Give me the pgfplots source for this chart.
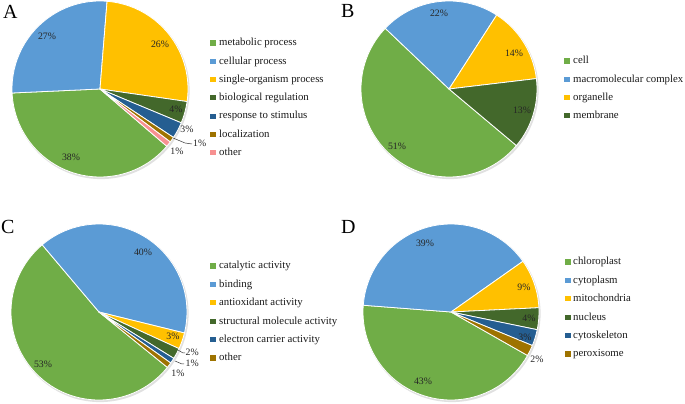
\documentclass[border=0pt]{standalone}
\usepackage{pgfplots}
\pgfplotsset{compat=1.18}
\usepackage{pgfplotstable}
\usepackage{fontspec}
\setmainfont{Liberation Serif}

\definecolor{xgreen}{HTML}{70AD47}
\definecolor{xblue}{HTML}{5B9BD5}
\definecolor{xyellow}{HTML}{FFC000}
\definecolor{xdkgreen}{HTML}{43682B}
\definecolor{xdkblue}{HTML}{255E91}
\definecolor{xbrown}{HTML}{9E7300}
\definecolor{xpink}{HTML}{F79191}

\pgfplotstableread{
cat pct col
{metabolic process} 38 xgreen
{cellular process} 27 xblue
{single-organism process} 26 xyellow
{biological regulation} 4 xdkgreen
{response to stimulus} 3 xdkblue
{localization} 1 xbrown
{other} 1 xpink
}\tabA

\pgfplotstableread{
cat pct col
{cell} 51 xgreen
{macromolecular complex} 22 xblue
{organelle} 14 xyellow
{membrane} 13 xdkgreen
}\tabB

\pgfplotstableread{
cat pct col
{catalytic activity} 53 xgreen
{binding} 40 xblue
{antioxidant activity} 3 xyellow
{structural molecule activity} 2 xdkgreen
{electron carrier activity} 1 xdkblue
{other} 1 xbrown
}\tabC

\pgfplotstableread{
cat pct col
{chloroplast} 43 xgreen
{cytoplasm} 39 xblue
{mitochondria} 9 xyellow
{nucleus} 4 xdkgreen
{cytoskeleton} 3 xdkblue
{peroxisome} 2 xbrown
}\tabD

% #1 table, #2 start angle, #3 legend square x, #4 text x, #5 first row y, #6 row step
\newcommand\pieslices[6]{%
  \pgfplotstablegetrowsof{#1}\pgfmathtruncatemacro\nrows{\pgfplotsretval-1}%
  \fill[black!12] (axis cs:1,-1.5) circle[radius=88.6bp];
  \pgfmathsetmacro\curang{#2}%
  \pgfplotsforeachungrouped \i in {0,...,\nrows}{%
    \pgfplotstablegetelem{\i}{pct}\of{#1}\let\pct\pgfplotsretval
    \pgfplotstablegetelem{\i}{col}\of{#1}\let\col\pgfplotsretval
    \pgfplotstablegetelem{\i}{cat}\of{#1}\let\cat\pgfplotsretval
    \pgfmathsetmacro\nextang{\curang-3.6*\pct}%
    \pgfmathsetmacro\rowy{#5-#6*\i}%
    \edef\temp{%
      \noexpand\fill[fill=\col, draw=white, line width=0.8bp, line join=round]
        (axis cs:0,0) -- (axis cs:{88*cos(\curang)},{88*sin(\curang)})
        arc[start angle=\curang, end angle=\nextang, radius=88bp] -- cycle;
      \noexpand\fill[\col] (axis cs:{#3-2.6},{\rowy-2.6}) rectangle (axis cs:{#3+2.6},{\rowy+2.6});
      \noexpand\node[anchor=base west, inner sep=0pt, text=black!90, font=\noexpand\fontsize{10.8bp}{12bp}\noexpand\selectfont]
        at (axis cs:#4,{\rowy-2.8}) {\cat};
    }%
    \temp
    \let\curang\nextang
  }%
}

\pgfplotsset{pieaxis/.style={at={(0,0)}, anchor=south west, x=1bp, y=1bp,
  hide axis, clip=false, scale only axis}}
\tikzset{lbl/.style={inner sep=0pt, font=\fontsize{9.8bp}{11bp}\selectfont, text=black!85},
  letter/.style={anchor=base west, inner sep=0pt, font=\fontsize{20bp}{24bp}\selectfont}}

\begin{document}
\begin{tikzpicture}
\useasboundingbox (0,0) rectangle (685bp,404bp);

% Panel A
\begin{axis}[pieaxis, xmin=-100, xmax=585, ymin=-315, ymax=89]
\pieslices{\tabA}{-40.6}{113}{119}{46}{18.3}
\node[lbl] at (axis cs:-53,53) {27\%};
\node[lbl] at (axis cs:60,45) {26\%};
\node[lbl] at (axis cs:76,-20) {4\%};
\node[lbl] at (axis cs:87,-40) {3\%};
\draw[black!80, line width=0.5bp] (axis cs:73,-49) -- (axis cs:85,-54) -- (axis cs:92,-55);
\node[lbl, anchor=west] at (axis cs:93,-54) {1\%};
\node[lbl] at (axis cs:77,-62) {1\%};
\node[lbl] at (axis cs:-29,-68) {38\%};
\node[letter] at (axis cs:-97,70) {A};
\end{axis}

% Panel B
\begin{axis}[pieaxis, xmin=-449, xmax=236, ymin=-315, ymax=89]
\pieslices{\tabB}{-40}{118}{124}{28}{18.3}
\node[lbl] at (axis cs:-10,76) {22\%};
\node[lbl] at (axis cs:65,36) {14\%};
\node[lbl] at (axis cs:73,-21) {13\%};
\node[lbl] at (axis cs:-52,-57) {51\%};
\node[letter] at (axis cs:-108,71) {B};
\end{axis}

% Panel C
\begin{axis}[pieaxis, xmin=-99, xmax=586, ymin=-92, ymax=312]
\pieslices{\tabC}{-39}{114}{120}{46}{18.4}
\node[lbl] at (axis cs:44,60) {40\%};
\node[lbl] at (axis cs:-56,-52) {53\%};
\node[lbl] at (axis cs:74,-24) {3\%};
\draw[black!80, line width=0.5bp] (axis cs:79,-38) -- (axis cs:84,-41) -- (axis cs:86,-41);
\node[lbl, anchor=west] at (axis cs:86.5,-40) {2\%};
\draw[black!80, line width=0.5bp] (axis cs:76,-49) -- (axis cs:83,-52) -- (axis cs:85,-52);
\node[lbl, anchor=west] at (axis cs:86.5,-51) {1\%};
\node[lbl] at (axis cs:79,-61) {1\%};
\node[letter] at (axis cs:-98,79) {C};
\end{axis}

% Panel D
\begin{axis}[pieaxis, xmin=-451, xmax=234, ymin=-92, ymax=312]
\pieslices{\tabD}{-29.6}{117}{122}{50}{18.4}
\node[lbl] at (axis cs:-26,69) {39\%};
\node[lbl] at (axis cs:73,25) {9\%};
\node[lbl] at (axis cs:78,-6) {4\%};
\node[lbl] at (axis cs:74,-25) {3\%};
\node[lbl] at (axis cs:86,-47) {2\%};
\node[lbl] at (axis cs:-28,-69) {43\%};
\node[letter] at (axis cs:-110,79) {D};
\end{axis}
\end{tikzpicture}
\end{document}
